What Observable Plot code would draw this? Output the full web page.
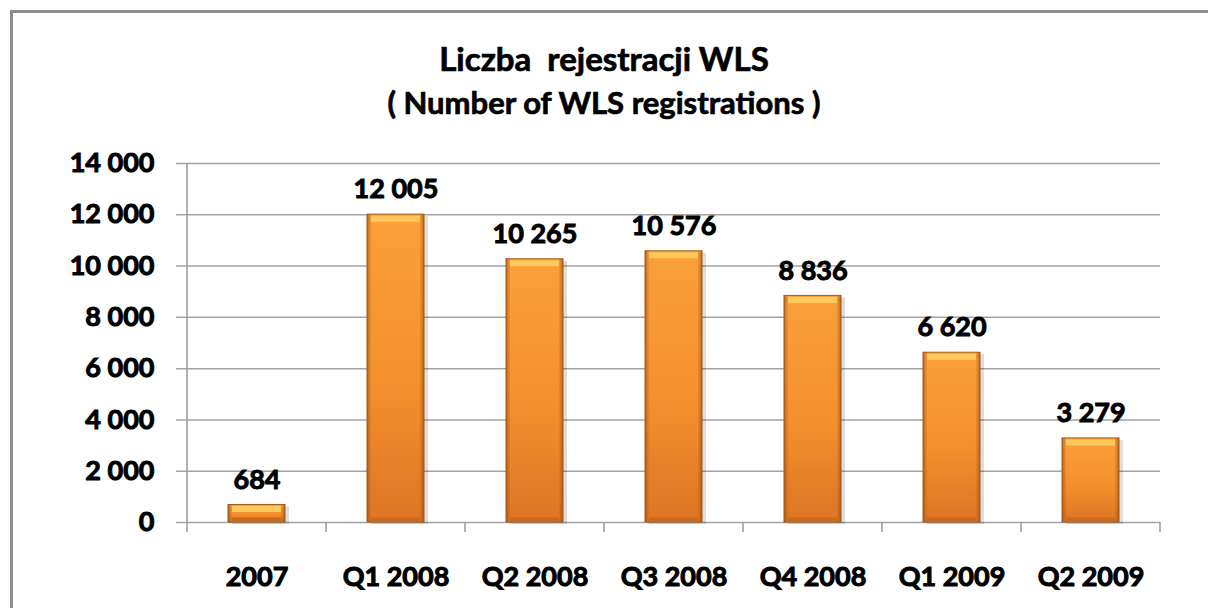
<!DOCTYPE html>
<html>
<head>
<meta charset="utf-8">
<script src="https://cdn.jsdelivr.net/npm/d3@7"></script>
<script src="https://cdn.jsdelivr.net/npm/@observablehq/plot@0.6"></script>
<style>
  html, body { margin: 0; padding: 0; width: 1208px; height: 608px; overflow: hidden; background: #fff; }
  #frame { position: absolute; left: 10px; top: 10px; width: 1400px; height: 800px; border: 3px solid #8c8c8c; box-sizing: border-box; }
  .title { position: absolute; left: 0; width: 1208px; text-align: center; font-family: Lato, "Open Sans", sans-serif; font-weight: bold; color: #000; white-space: pre; -webkit-text-stroke: 0.7px #000; }
  #t1 { top: 38px; font-size: 33px; line-height: 40px; }
  #t2 { top: 85px; font-size: 31px; line-height: 34px; }
  #chart { position: absolute; left: 0; top: 0; }
  #chart svg text { stroke: #000 !important; stroke-width: 1px !important; }
</style>
</head>
<body>
<div id="frame"></div>
<svg width="0" height="0" style="position:absolute">
  <defs>
    <linearGradient id="barBody" x1="0" y1="0" x2="0" y2="1">
      <stop offset="0%" stop-color="#FBA03A"/>
      <stop offset="55%" stop-color="#F4902E"/>
      <stop offset="100%" stop-color="#DD7525"/>
    </linearGradient>
    <linearGradient id="barEdge" x1="0" y1="0" x2="1" y2="0">
      <stop offset="0%" stop-color="#9A4E10" stop-opacity="0.65"/>
      <stop offset="8%" stop-color="#9A4E10" stop-opacity="0"/>
      <stop offset="92%" stop-color="#9A4E10" stop-opacity="0"/>
      <stop offset="100%" stop-color="#9A4E10" stop-opacity="0.65"/>
    </linearGradient>
  </defs>
</svg>
<div id="t1" class="title">Liczba  rejestracji WLS</div>
<div id="t2" class="title">( Number of WLS registrations )</div>
<div id="chart"></div>
<script>
const categories = ["2007", "Q1 2008", "Q2 2008", "Q3 2008", "Q4 2008", "Q1 2009", "Q2 2009"];
const values = [684, 12005, 10265, 10576, 8836, 6620, 3279];
const yTicks = [0, 2000, 4000, 6000, 8000, 10000, 12000, 14000];

const data = categories.map((c, i) => ({category: c, value: values[i]}));
const fmt = d3.formatLocale({thousands: "\u00a0", grouping: [3], decimal: ",", currency: ["", ""]}).format(",d");

const W = 1208, H = 608;

function frameLines(index, scales) {
  const x = scales.x, y = scales.y;
  const step = x.step(), bw = x.bandwidth();
  const g = d3.create("svg:g").attr("stroke", "#9a9a9a").attr("stroke-width", 1.5);
  const bounds = categories.map(c => x(c) + bw / 2 - step / 2);
  bounds.push(x(categories[categories.length - 1]) + bw / 2 + step / 2);
  const y0 = y(0);
  bounds.forEach(b => {
    g.append("line").attr("x1", b).attr("x2", b).attr("y1", y0).attr("y2", y0 + 10);
  });
  g.append("line").attr("x1", bounds[0]).attr("x2", bounds[0]).attr("y1", y(yTicks[yTicks.length - 1])).attr("y2", y0);
  return g.node();
}

const chart = Plot.plot({
  width: W,
  height: H,
  marginLeft: 186,
  marginRight: 48,
  marginTop: 163,
  marginBottom: 86,
  style: {fontFamily: "Lato, 'Open Sans', sans-serif", fontSize: "27px", fontWeight: "bold", color: "#000", background: "transparent", overflow: "visible"},
  x: {domain: categories, paddingInner: 0.59, paddingOuter: 0.295, tickSize: 0, tickPadding: 44, label: null},
  y: {domain: [0, 14000], ticks: yTicks, tickFormat: fmt, tickSize: 0, tickPadding: 32, label: null},
  marks: [
    Plot.ruleY(yTicks, {stroke: "#a3a3a3", strokeWidth: 1.5, insetLeft: -10}),
    frameLines,
    Plot.barY(data, {x: "category", y: "value", fill: "#000", fillOpacity: 0.13, dx: 4, dy: 2}),
    Plot.barY(data, {x: "category", y: "value", fill: "url(#barBody)", stroke: "#A85A16", strokeWidth: 1}),
    Plot.barY(data, {x: "category", y: "value", fill: "url(#barEdge)"}),
    Plot.tickY(data, {x: "category", y: "value", stroke: "#FFC95E", strokeWidth: 6, dy: 4, insetLeft: 4, insetRight: 4}),
    Plot.tickY(data, {x: "category", y: 0, stroke: "#C96A1D", strokeWidth: 4, dy: -3, insetLeft: 4, insetRight: 4}),
    Plot.text(data, {x: "category", y: "value", text: d => fmt(d.value), dy: -25, fontSize: 27, fontWeight: "bold", fill: "#000"})
  ]
});
document.getElementById("chart").appendChild(chart);
</script>
</body>
</html>
